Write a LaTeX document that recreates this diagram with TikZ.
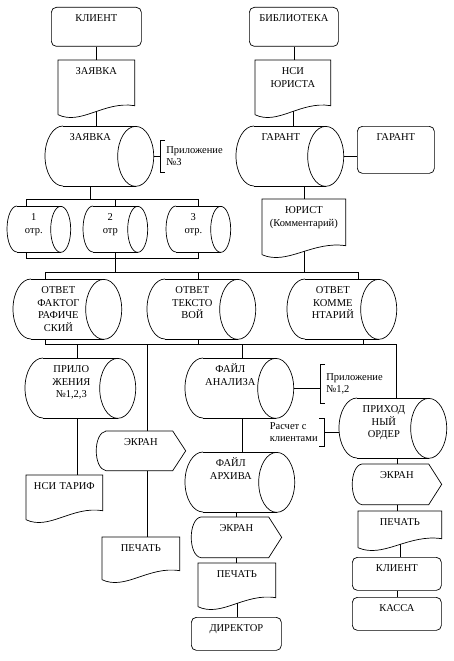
\documentclass[tikz,border=0pt]{standalone}
\usepackage{fontspec}
\setmainfont{Liberation Serif}
\usepackage{tikz}
\usetikzlibrary{calc}

\begin{document}
\begin{tikzpicture}[
  x=1pt,y=1pt,line width=0.7pt,
  base/.style={anchor=north west,inner sep=0pt,align=center,text height=14.5pt,font=\fontsize{10.5}{12.5}\selectfont},
  sz/.style 2 args={text width=#1pt,text depth=#2pt-14.5pt},
  term/.style={base,draw,rounded corners=5pt},
  docum/.style={base},
  cyl/.style={base},
  scr/.style={base},
  note/.style={align=left,inner xsep=6pt,font=\fontsize{10.5}{12.5}\selectfont},
  conn/.style={draw}
]
\useasboundingbox (0,0) rectangle (453,-661);
% left column
\node[term,sz={90}{39}] (kl1) at (51,-7) {КЛИЕНТ};
\node[docum,sz={76}{58}] (zv1) at (58,-60) {ЗАЯВКА};
\node[cyl,sz={90}{60}] (zv2) at (45,-126) {ЗАЯВКА};
\node[note,anchor=west,inner ysep=6pt] (pr3) at (160,-156) {Приложение\\№3};
% right column
\node[term,sz={89}{39}] (bib) at (249,-7) {БИБЛИОТЕКА};
\node[docum,sz={75}{58}] (nsi) at (255,-60) {НСИ\\ЮРИСТА};
\node[cyl,sz={89}{60}] (gar1) at (236,-126) {ГАРАНТ};
\node[term,sz={77}{47}] (gar2) at (357,-126) {ГАРАНТ};
\node[docum,sz={83}{59}] (jur) at (262,-199) {ЮРИСТ\\(Комментарий)};
% parts
\node[cyl,sz={53}{46}] (o1) at (7,-206) {1\\отр.};
\node[cyl,sz={54}{46}] (o2) at (83,-206) {2\\отр};
\node[cyl,sz={54}{46}] (o3) at (166,-206) {3\\отр.};
% answers
\node[cyl,sz={90}{60}] (otv1) at (13,-279) {ОТВЕТ\\ФАКТОГ\\РАФИЧЕ\\СКИЙ};
\node[cyl,sz={90}{60}] (otv2) at (147,-279) {ОТВЕТ\\ТЕКСТО\\ВОЙ};
\node[cyl,sz={91}{60}] (otv3) at (287,-279) {ОТВЕТ\\КОММЕ\\НТАРИЙ};
% lower part
\node[cyl,sz={92}{60}] (pril) at (25,-358) {ПРИЛО\\ЖЕНИЯ\\№1,2,3};
\node[docum,sz={76}{48}] (tarif) at (26,-475) {НСИ ТАРИФ};
\node[scr,sz={89}{39}] (ek1) at (96,-431) {ЭКРАН};
\node[docum,sz={77}{46}] (pech1) at (102,-537) {ПЕЧАТЬ};
\node[cyl,sz={90}{60}] (fan) at (185,-358) {ФАЙЛ\\АНАЛИЗА};
\node[note,anchor=west,inner ysep=9pt] (pr12) at (320,-384) {Приложение\\№1,2};
\node[cyl,sz={91}{60}] (far) at (185,-452) {ФАЙЛ\\АРХИВА};
\node[scr,sz={90}{40}] (ek2) at (191,-517) {ЭКРАН};
\node[docum,sz={77}{47}] (pech2) at (198,-563) {ПЕЧАТЬ};
\node[term,sz={90}{33}] (dir) at (191,-617) {ДИРЕКТОР};
\node[note,anchor=east,inner ysep=4pt] (rasch) at (324,-432) {Расчет с\\клиентами};
\node[cyl,sz={89}{60}] (prih) at (339,-398) {ПРИХОД\\НЫЙ\\ОРДЕР};
\node[scr,sz={89}{40}] (ek3) at (352,-464) {ЭКРАН};
\node[docum,sz={83}{40}] (pech3) at (358,-511) {ПЕЧАТЬ};
\node[term,sz={89}{33}] (kl2) at (352,-557) {КЛИЕНТ};
\node[term,sz={89}{33}] (kassa) at (352,-597) {КАССА};

% outlines
\foreach \n/\rx/\ry in {zv2/18/30,gar1/18/30,o1/10/23,o2/10/23,o3/10/23,otv1/18/30,otv2/18/30,otv3/18/30,pril/18/30,fan/18/30,far/18/30,prih/18/30}{
  \draw ([xshift=\rx pt]\n.north west) -- (\n.north east)
        ([xshift=\rx pt]\n.south west) -- (\n.south east);
  \draw ([xshift=\rx pt]\n.north west) arc[start angle=90,end angle=270,x radius=\rx,y radius=\ry];
  \draw (\n.east) ellipse[x radius=\rx,y radius=\ry];
  \coordinate (\n-r) at ([xshift=\rx pt]\n.east);
}
\foreach \n in {zv1,nsi,jur,tarif,pech1,pech2,pech3}{
  \draw ([yshift=4pt]\n.south west) -- (\n.north west) -- (\n.north east) -- ([yshift=13pt]\n.south east)
    .. controls ($(\n.south west)!0.6!(\n.south east)+(0,18)$) and ($(\n.south west)!0.3!(\n.south east)+(0,-7)$) .. ([yshift=4pt]\n.south west)
    coordinate[pos=0.46] (\n-w);
}
\foreach \n in {ek1,ek2,ek3}{
  \draw ([xshift=10pt]\n.north west) -- ([xshift=-13pt]\n.north east) -- (\n.east) -- ([xshift=-13pt]\n.south east) -- ([xshift=10pt]\n.south west)
    .. controls ([xshift=-3pt,yshift=2pt]\n.south west) and ([xshift=-3pt,yshift=-2pt]\n.north west) .. ([xshift=10pt]\n.north west);
}
\foreach \n in {pr3,pr12}
  \draw ([xshift=5pt]\n.north west) -- (\n.north west) -- (\n.south west) -- ([xshift=5pt]\n.south west);
\draw ([xshift=-5pt]rasch.north east) -- (rasch.north east) -- (rasch.south east) -- ([xshift=-5pt]rasch.south east);

% buses
\coordinate (t1) at (26,-199);
\coordinate (t2) at (198,-199);
\coordinate (u1) at (26,-258);
\coordinate (u2) at (198,-258);
\coordinate (m1) at (115,-272);
\coordinate (v1) at (45,-272);
\coordinate (v2) at (358,-272);
\coordinate (w1) at (45,-344);
\coordinate (w2) at (396,-344);

% connectors
\draw[conn] (kl1.south) -- (zv1.north);
\draw[conn] (zv1-w) -- (zv1-w |- zv2.north);
\draw[conn] (zv2-r) -- (zv2-r -| pr3.west);
\draw[conn] (bib.south) -- (bib.south |- nsi.north);
\draw[conn] (nsi-w) -- (nsi-w |- gar1.north);
\draw[conn] (gar1-r) -- (gar1-r -| gar2.west);
\draw[conn] (jur.north |- gar1.south) -- (jur.north);
\draw[conn] (zv2.south) -- (zv2.south |- t1);
\draw[conn] (o1.north -| t1) -- (t1) -- (t2) -- (o3.north -| t2);
\draw[conn] (m1 |- t1) -- (m1 |- o2.north);
\draw[conn] (o1.south -| u1) -- (u1) -- (u2) -- (o3.south -| u2);
\draw[conn] (m1 |- o2.south) -- (m1);
\draw[conn] (jur-w) -- (jur-w |- v1);
\draw[conn] (otv1.north -| v1) -- (v1) -- (v2) -- (v2 |- otv3.north);
\draw[conn] ([xshift=6pt]otv2.north) -- ([xshift=6pt]otv2.north |- v1);
\draw[conn] (otv1.south -| w1) -- (w1) -- (w2) -- (w2 |- prih.north);
\draw[conn] ([xshift=6pt]otv2.south) -- ([xshift=6pt]otv2.south |- w1);
\draw[conn] ([xshift=30pt]otv3.south) -- ([xshift=30pt]otv3.south |- w1);
\draw[conn] ([xshift=6pt]pril.north) -- ([xshift=6pt]pril.north |- w1);
\draw[conn] ([xshift=6pt]pril.south) -- ([xshift=6pt]pril.south |- tarif.north);
\draw[conn] ([xshift=6pt]ek1.north) -- ([xshift=6pt]ek1.north |- w1);
\draw[conn] ([xshift=6pt]ek1.south) -- ([xshift=6pt]ek1.south |- pech1.north);
\draw[conn] ([xshift=12pt]fan.north) -- ([xshift=12pt]fan.north |- w1);
\draw[conn] ([xshift=12pt]fan.south) -- ([xshift=12pt]fan.south |- far.north);
\draw[conn] (fan-r) -- (fan-r -| pr12.west);
\draw[conn] (ek2.north |- far.south) -- (ek2.north);
\draw[conn] (ek2.south) -- (ek2.south |- pech2.north);
\draw[conn] (pech2-w) -- (pech2-w |- dir.north);
\draw[conn] (rasch.east) -- (rasch.east -| prih.west);
\draw[conn] (ek3.north |- prih.south) -- (ek3.north);
\draw[conn] (ek3.south) -- (ek3.south |- pech3.north);
\draw[conn] (pech3-w) -- (pech3-w |- kl2.north);
\draw[conn] (kl2.south) -- (kassa.north);
\end{tikzpicture}
\end{document}
